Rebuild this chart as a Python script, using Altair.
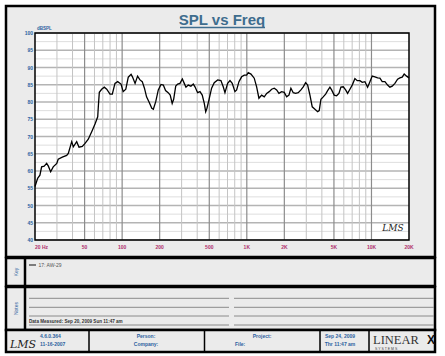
import altair as alt
import pandas as pd

# ---------------- data ----------------
freq_hz = [20, 21.0, 21.9, 22.6, 23.7, 24.8, 25.6, 26.7, 28.0, 29.9, 30.7, 33.1, 35.9, 37.0,
           39.4, 40.6, 43.2, 45.1, 47.9, 50.4, 53.5, 57.0, 60.6, 63.7, 64.4, 65.6, 68.5, 71.9,
           75.2, 79.9, 83.4, 87.6, 92.1, 97.9, 102, 107, 112, 118, 121, 127, 133, 139, 145,
           151, 157, 164, 173, 178, 186, 195, 205, 214, 223, 234, 243, 252, 259, 269, 279,
           291, 304, 315, 325, 339, 356, 372, 384, 403, 421, 439, 456, 468, 479, 497, 522,
           548, 584, 620, 647, 668, 702, 733, 764, 803, 829, 865, 909, 954, 997, 1027, 1080,
           1147, 1199, 1251, 1315, 1380, 1443, 1513, 1582, 1660, 1735, 1810, 1903, 1996, 2087,
           2178, 2258, 2358, 2464, 2586, 2718, 2836, 2964, 3076, 3210, 3348, 3520, 3700, 3810,
           3932, 4102, 4288, 4450, 4642, 4790, 5024, 5252, 5482, 5688, 5936, 6204, 6436, 6716,
           7008, 7366, 7686, 8080, 8430, 8862, 9312, 9718, 10138, 10656, 11202, 11686, 12194,
           12816, 13472, 14056, 14668, 15416, 16204, 16906, 17640, 18302, 19134, 20000]
spl_db = [55.5, 57.9, 58.8, 61.2, 61.4, 62.2, 61.4, 59.8, 61.2, 62.2, 63.4, 64.0, 64.5, 65.1,
          68.5, 67.0, 68.5, 66.9, 67.1, 68.0, 69.2, 71.4, 73.6, 75.7, 78.6, 82.8, 83.7, 84.3,
          83.7, 82.3, 82.3, 85.4, 85.9, 85.2, 83.0, 83.7, 87.2, 88.0, 87.3, 85.4, 87.5, 86.4,
          85.9, 84.0, 81.5, 80.1, 78.2, 77.9, 80.1, 83.5, 85.1, 84.9, 83.3, 82.7, 82.0, 79.6,
          80.8, 84.6, 85.2, 85.4, 86.7, 85.4, 84.3, 84.9, 84.6, 85.2, 84.4, 82.7, 83.0, 82.0,
          79.6, 77.2, 78.2, 80.6, 84.0, 85.6, 86.4, 86.2, 84.4, 82.7, 85.4, 86.2, 85.4, 83.0,
          83.5, 85.9, 87.3, 87.8, 87.8, 88.5, 88.1, 86.9, 84.4, 81.1, 82.0, 81.5, 82.5, 83.0,
          83.7, 84.0, 83.5, 82.5, 83.0, 82.8, 81.5, 82.0, 84.0, 82.7, 82.5, 82.7, 83.5, 84.4,
          85.6, 84.9, 82.0, 78.6, 77.9, 77.2, 77.5, 80.8, 81.5, 82.3, 83.3, 84.3, 83.5, 82.0,
          81.8, 82.5, 84.3, 84.4, 83.5, 82.5, 83.7, 84.9, 86.8, 86.2, 86.2, 85.7, 85.9, 84.3,
          85.9, 87.5, 87.3, 87.0, 86.9, 85.9, 85.9, 84.9, 84.3, 84.6, 85.4, 86.6, 87.0, 87.2,
          88.1, 87.5, 87.0]

y_tick_values = [40, 45, 50, 55, 60, 65, 70, 75, 80, 85, 90, 95, 100]
y_minor_values = [42.5, 47.5, 52.5, 57.5, 62.5, 67.5, 72.5, 77.5, 82.5, 87.5, 92.5, 97.5]
x_label_freqs = [20, 50, 100, 200, 500, 1000, 2000, 5000, 10000, 20000]
x_label_texts = ["20  Hz", "50", "100", "200", "500", "1K", "2K", "5K", "10K", "20K"]
grid_major_freqs = [50, 100, 200, 500, 1000, 2000, 5000, 10000]
grid_minor_freqs = [30, 40, 60, 70, 80, 90, 300, 400, 600, 700, 800, 900,
                    3000, 4000, 6000, 7000, 8000, 9000]

title_text = "SPL vs Freq"
y_unit_text = "dBSPL"
key_entry = "17: AW-29"
measured_text = "Data Measured: Sep 20, 2009  Sun 11:47 am"
footer_version = ["4.6.0.364", "11-16-2007"]
footer_person = ["Person:", "Company:"]
footer_project = ["Project:", "File:"]
footer_date = ["Sep 24, 2009", "Thr 11:47 am"]

# ---------------- chart ----------------
W, H = 374, 207
FONT = "Liberation Sans"
BLUE = "#2d62a0"
PANEL = "#ebebeb"

xs = alt.Scale(type="log", domain=[20, 20000], nice=False)
ys = alt.Scale(domain=[40, 100], nice=False, zero=False)

curve_df = pd.DataFrame({"freq": freq_hz, "spl": spl_db, "idx": range(len(freq_hz))})
one = pd.DataFrame({"a": [0]})


def box(x1, x2, y1, y2, fill, stroke="black", sw=2.5):
    return alt.Chart(one).mark_rect(fill=fill, stroke=stroke, strokeWidth=sw).encode(
        x=alt.value(x1), x2=alt.value(x2), y=alt.value(y1), y2=alt.value(y2))


def hline(x1, x2, y, color, sw=1.0):
    return alt.Chart(one).mark_rule(color=color, strokeWidth=sw).encode(
        x=alt.value(x1), x2=alt.value(x2), y=alt.value(y))


def vline(x, y1, y2, color="black", sw=2.5):
    return alt.Chart(one).mark_rule(color=color, strokeWidth=sw).encode(
        x=alt.value(x), y=alt.value(y1), y2=alt.value(y2))


def label(txt, x, y, size=5.5, color=BLUE, weight="bold", align="left", angle=0,
          font=FONT, style="normal", baseline="alphabetic"):
    return alt.Chart(one).mark_text(text=txt, fontSize=size, color=color, fontWeight=weight,
                                    align=align, angle=angle, font=font, fontStyle=style,
                                    baseline=baseline).encode(
        x=alt.value(x), y=alt.value(y))


layers = []
# panels
layers.append(box(-29, 400, -27, 224, PANEL))
layers.append(box(-29, 400, 225, 253, PANEL))
layers.append(box(-29, 400, 254, 297, PANEL))
layers.append(box(-29, 400, 297, 319, PANEL))
layers.append(vline(-10, 225, 297))
for xv in [54, 169.5, 285, 334]:
    layers.append(vline(xv, 297, 319, sw=1.5))

# plot area
layers.append(box(0, W, 0, H, "white", sw=0))

# grid
minor_h = alt.Chart(pd.DataFrame({"v": y_minor_values})).mark_rule(
    color="#dedede", strokeWidth=1).encode(
    y=alt.Y("v:Q", scale=ys, axis=None), x=alt.value(0), x2=alt.value(W))
major_h = alt.Chart(pd.DataFrame({"v": y_tick_values})).mark_rule(
    color="#b4b4b4", strokeWidth=1.4).encode(
    y=alt.Y("v:Q", scale=ys, axis=None), x=alt.value(0), x2=alt.value(W))
minor_v = alt.Chart(pd.DataFrame({"freq": grid_minor_freqs})).mark_rule(
    color="#c4c4c4", strokeWidth=1).encode(
    x=alt.X("freq:Q", scale=xs, axis=None), y=alt.value(0), y2=alt.value(H))
major_v = alt.Chart(pd.DataFrame({"freq": grid_major_freqs})).mark_rule(
    color="#8c8c8c", strokeWidth=1.2).encode(
    x=alt.X("freq:Q", scale=xs, axis=None), y=alt.value(0), y2=alt.value(H))
layers += [minor_h, major_h, minor_v, major_v]

# plot border
layers.append(box(0, W, 0, H, "transparent", sw=1.5))

# curve
layers.append(alt.Chart(curve_df).mark_line(color="black", strokeWidth=1.3).encode(
    x=alt.X("freq:Q", scale=xs, axis=None),
    y=alt.Y("spl:Q", scale=ys, axis=None),
    order="idx:Q"))

# y labels
layers.append(alt.Chart(pd.DataFrame({"v": y_tick_values})).mark_text(
    align="right", baseline="middle", fontSize=5, fontWeight="bold", color=BLUE,
    font=FONT).encode(
    y=alt.Y("v:Q", scale=ys, axis=None), x=alt.value(-2), text="v:Q"))

# x labels
xl = pd.DataFrame({"freq": x_label_freqs, "t": x_label_texts})
layers.append(alt.Chart(xl[xl.freq > 20]).mark_text(
    align="center", baseline="middle", fontSize=5, fontWeight="bold", color="#b0306e",
    font=FONT).encode(
    x=alt.X("freq:Q", scale=xs, axis=None), y=alt.value(H + 7), text="t:N"))
layers.append(alt.Chart(xl[xl.freq == 20]).mark_text(
    align="left", baseline="middle", fontSize=5, fontWeight="bold", color="#b0306e",
    font=FONT).encode(
    x=alt.X("freq:Q", scale=xs, axis=None), y=alt.value(H + 7), text="t:N"))

# title & unit
layers.append(label(title_text, 187, -8, size=15, color="#3e6d8e", align="center"))
layers.append(hline(145, 230, -5.5, "#3e6d8e", sw=1.3))
layers.append(label(y_unit_text, 2, -3.5, size=4.5))
layers.append(label("LMS", 358, 198, size=9, color="#222", weight="normal",
                    align="center", font="DejaVu Serif", style="italic"))

# key panel
layers.append(label("Key", -19, 239, size=5, weight="normal", angle=270, align="center",
                    baseline="middle"))
layers.append(hline(-6, 1, 232, "#333", sw=1.2))
layers.append(label(key_entry, 3.5, 234, size=5, color="#555", weight="normal"))

# notes panel
layers.append(label("Notes", -19, 275.5, size=5, weight="normal", angle=270, align="center",
                    baseline="middle"))
for yv in [265.3, 274.3, 283, 292]:
    layers.append(hline(-6, 194, yv, "#8a8a8a", sw=1))
    layers.append(hline(199, 399, yv, "#8a8a8a", sw=1))
layers.append(label(measured_text, -6, 290, size=4.6, color="#333"))

# footer
layers.append(label("LMS", -12, 315, size=11, color="#222", weight="normal",
                    align="center", font="DejaVu Serif", style="italic"))
layers.append(label(footer_version[0], 5, 305, size=5))
layers.append(label(footer_version[1], 5, 313, size=5))
layers.append(label(footer_person[0], 111, 305, size=5, align="center"))
layers.append(label(footer_person[1], 111, 313, size=5, align="center"))
layers.append(label(footer_project[0], 227, 305, size=5, align="center"))
layers.append(label(footer_project[1], 200, 313, size=5, align="left"))
layers.append(label(footer_date[0], 305, 305, size=5, align="center"))
layers.append(label(footer_date[1], 305, 313, size=5, align="center"))
layers.append(label("LINEAR", 338, 311, size=12.5, color="#333", weight="normal",
                    font="Liberation Serif"))
layers.append(label("X", 392, 311, size=12, color="#111", weight="bold"))
layers.append(label("S     Y     S     T     E     M     S", 340, 317, size=3.5,
                    color="#444", weight="normal"))

chart = alt.layer(*layers).properties(
    width=W, height=H,
    padding={"left": 35, "top": 33, "right": 36, "bottom": 116},
    autosize=alt.AutoSizeParams(type="none"),
    background="white",
).configure_view(stroke=None)

chart.save("out.html", embed_options={"renderer": "svg", "actions": False})
